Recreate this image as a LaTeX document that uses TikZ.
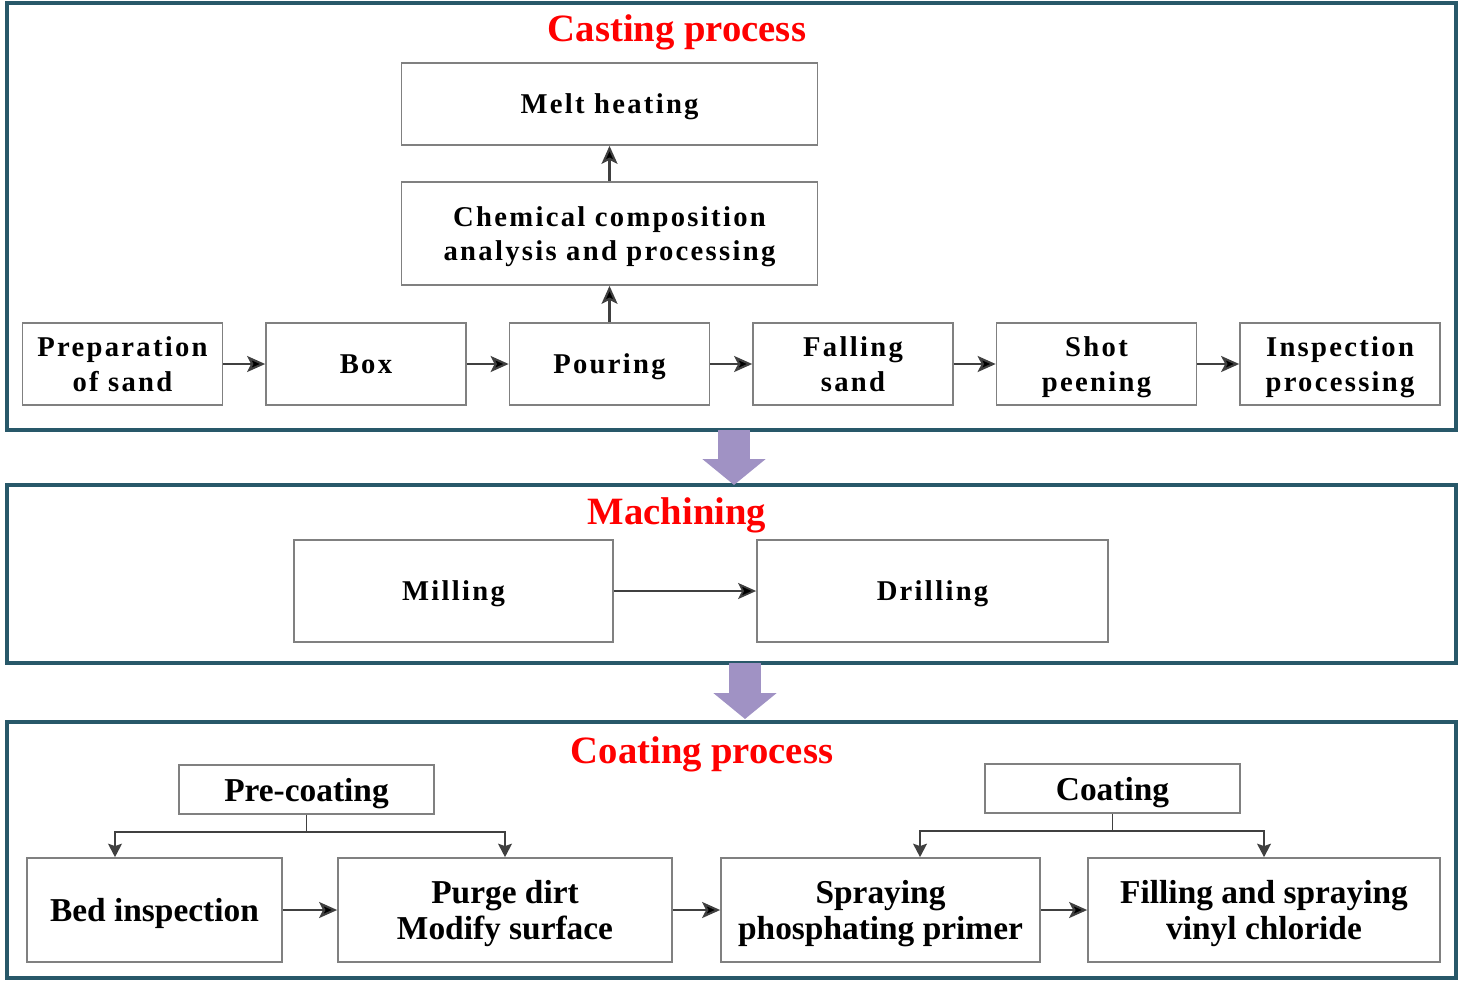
\documentclass[tikz,border=0pt]{standalone}
\usepackage{fontspec}
\setmainfont{Liberation Serif}
\newfontfamily\widefont{Liberation Serif}[LetterSpace=8]
\usetikzlibrary{positioning, arrows.meta}

\definecolor{framecol}{RGB}{40,88,105}
\definecolor{boxcol}{RGB}{128,128,128}
\definecolor{arrcol}{RGB}{64,64,64}
\definecolor{flowcol}{RGB}{160,146,196}

\begin{document}
\begin{tikzpicture}[>={Stealth[length=0.36cm, width=0.32cm, inset=0.08cm]}, node distance=0.835cm]
  % Styles
  \tikzstyle{stage}=[draw=framecol, line width=1.8pt]
  \tikzstyle{heading}=[text=red, font=\fontsize{22}{26}\selectfont\bfseries]
  \tikzstyle{castbox}=[draw=boxcol, line width=1pt, align=center, inner sep=0pt, text depth=0pt, minimum width=4cm, minimum height=1.64cm, font=\widefont\bfseries\fontsize{16.3}{19.8}\selectfont]
  \tikzstyle{coatbox}=[draw=boxcol, line width=1pt, align=center, inner sep=0pt, text depth=0pt, minimum height=2.08cm, font=\bfseries\fontsize{19}{20.4}\selectfont]
  \tikzset{link/.style={->, draw=arrcol, line width=1.2pt}}
  \tikzset{branch/.style={-{Stealth[length=0.27cm, width=0.28cm, inset=0.05cm]}, draw=arrcol, line width=0.8pt}}
  \tikzset{flow/.style={-{Triangle[length=0.52cm, width=1.24cm]}, draw=flowcol, line width=0.64cm}}

  \useasboundingbox (0,0) rectangle (29.16,-19.6);

  % --- Frames ---
  \draw[stage] (0.14,-0.06) rectangle (29.12,-8.6);
  \draw[stage] (0.14,-9.7) rectangle (29.12,-13.26);
  \draw[stage] (0.14,-14.44) rectangle (29.12,-19.56);
  \coordinate (castend) at (14.68,-8.6);
  \coordinate (machstart) at (14.68,-9.7);
  \coordinate (machend) at (14.9,-13.26);
  \coordinate (coatstart) at (14.9,-14.38);

  % --- Casting process ---
  \node[heading] (casttitle) at (13.54,-0.64) {Casting process};
  \node[castbox] (prep) at (2.45,-7.28) {Preparation\\of sand};
  \node[castbox, right=of prep] (box) {Box};
  \node[castbox, right=of box] (pour) {Pouring};
  \node[castbox, right=of pour] (fall) {Falling\\sand};
  \node[castbox, right=of fall] (shot) {Shot\\peening};
  \node[castbox, right=of shot] (insp) {Inspection\\processing};
  \node[castbox, minimum width=8.32cm, minimum height=2.06cm, above=0.725cm of pour] (chem) {Chemical composition\\analysis and processing};
  \node[castbox, minimum width=8.32cm, above=0.705cm of chem] (melt) {Melt heating};

  % --- Machining ---
  \node[heading] (machtitle) at (13.54,-10.3) {Machining};
  \node[castbox, minimum width=6.38cm, minimum height=2.04cm] (mill) at (9.07,-11.82) {Milling};
  \node[castbox, minimum width=7.02cm, minimum height=2.04cm, right=2.845cm of mill] (drill) {Drilling};

  % --- Coating process ---
  \node[heading] (coattitle) at (14.04,-15.08) {Coating process};
  \node[coatbox, minimum width=5.1cm] (bed) at (3.09,-18.2) {Bed inspection};
  \node[coatbox, minimum width=6.68cm, right=1.085cm of bed] (purge) {Purge dirt\\Modify surface};
  \node[coatbox, minimum width=6.38cm, right=0.945cm of purge] (spray) {Spraying\\phosphating primer};
  \node[coatbox, minimum width=7.04cm, right=0.925cm of spray] (fill) {Filling and spraying\\vinyl chloride};
  \node[coatbox, minimum width=5.1cm, minimum height=0.98cm] (pre) at (6.13,-15.79) {Pre-coating};
  \node[coatbox, minimum width=5.1cm, minimum height=0.98cm] (coat) at (22.25,-15.77) {Coating};

  % --- Transitions ---
  \path[link]
    (prep) edge (box)
    (box) edge (pour)
    (pour) edge (fall)
    (fall) edge (shot)
    (shot) edge (insp)
    (pour) edge (chem)
    (chem) edge (melt);

  \path[link, line width=1pt]
    (mill) edge (drill);

  \path[link]
    (bed) edge (purge)
    (purge) edge (spray)
    (spray) edge (fill);

  % Branches
  \draw[branch] (pre.south) -- ++(0,-0.34) -| ([xshift=-0.79cm]bed.north);
  \draw[branch] (pre.south) -- ++(0,-0.34) -| (purge.north);
  \draw[branch] (coat.south) -- ++(0,-0.34) -| ([xshift=0.79cm]spray.north);
  \draw[branch] (coat.south) -- ++(0,-0.34) -| (fill.north);

  % Stage to stage
  \draw[flow] (castend) -- (machstart);
  \draw[flow] (machend) -- (coatstart);

\end{tikzpicture}
\end{document}
